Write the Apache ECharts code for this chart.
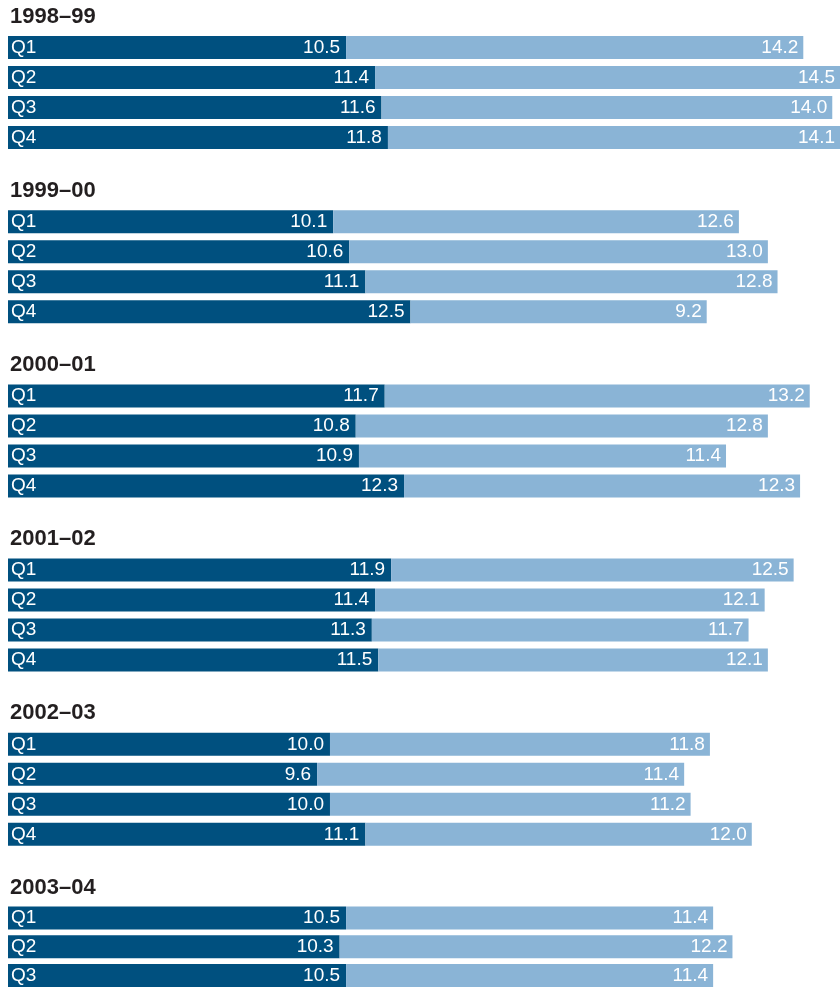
<!DOCTYPE html>
<html>
<head>
<meta charset="utf-8">
<script src="https://cdn.jsdelivr.net/npm/echarts@6/dist/echarts.min.js"></script>
<style>html,body{margin:0;padding:0;background:#fff}#c{width:840px;height:990px}</style>
</head>
<body>
<div id="c"></div>
<script>
const years = ['1998–99', '1999–00', '2000–01', '2001–02', '2002–03', '2003–04'];
const quarters = ['Q1', 'Q2', 'Q3', 'Q4'];
const dark9899 = [10.5, 11.4, 11.6, 11.8];
const light9899 = [14.2, 14.5, 14.0, 14.1];
const dark9900 = [10.1, 10.6, 11.1, 12.5];
const light9900 = [12.6, 13.0, 12.8, 9.2];
const dark0001 = [11.7, 10.8, 10.9, 12.3];
const light0001 = [13.2, 12.8, 11.4, 12.3];
const dark0102 = [11.9, 11.4, 11.3, 11.5];
const light0102 = [12.5, 12.1, 11.7, 12.1];
const dark0203 = [10.0, 9.6, 10.0, 11.1];
const light0203 = [11.8, 11.4, 11.2, 12.0];
const dark0304 = [10.5, 10.3, 10.5];
const light0304 = [11.4, 12.2, 11.4];

const darkValues = [dark9899, dark9900, dark0001, dark0102, dark0203, dark0304];
const lightValues = [light9899, light9900, light0001, light0102, light0203, light0304];

const DARK = '#00507f', LIGHT = '#8ab4d6';
const FONT = '"Liberation Sans", Arial, sans-serif';
const PITCH = 174.2, ROW = 30, TOP0 = 32.5;

const chart = echarts.init(document.getElementById('c'), null, {renderer: 'canvas'});
const grids = [], xAxes = [], yAxes = [], series = [], titles = [];
years.forEach((y, i) => {
  const n = darkValues[i].length;
  const top = TOP0 + i * PITCH;
  grids.push({left: 8, right: 0, top: top, height: n * ROW, containLabel: false});
  titles.push({text: y, left: 10, top: top - 27, padding: 0,
    textStyle: {fontFamily: FONT, fontWeight: 'bold', fontSize: 22, color: '#231f20'}});
  xAxes.push({type: 'value', gridIndex: i, min: 0, max: 25.84, show: false});
  yAxes.push({type: 'category', gridIndex: i, inverse: true, data: quarters.slice(0, n), z: 10,
    axisLine: {show: false}, axisTick: {show: false}, splitLine: {show: false},
    axisLabel: {inside: true, margin: 3, color: '#fff', fontFamily: FONT, fontSize: 19}});
  const lbl = (d) => ({show: true, position: 'insideRight', distance: d, color: '#fff',
    fontFamily: FONT, fontSize: 19, formatter: (p) => p.value.toFixed(1)});
  series.push({type: 'bar', name: 'dark', stack: 's' + i, xAxisIndex: i, yAxisIndex: i,
    data: darkValues[i], barWidth: 23, itemStyle: {color: DARK}, label: lbl(6), silent: true});
  series.push({type: 'bar', name: 'light', stack: 's' + i, xAxisIndex: i, yAxisIndex: i,
    data: lightValues[i], barWidth: 23, itemStyle: {color: LIGHT}, label: lbl(5), silent: true});
});
chart.setOption({animation: false, title: titles, grid: grids, xAxis: xAxes, yAxis: yAxes, series: series});
</script>
</body>
</html>
